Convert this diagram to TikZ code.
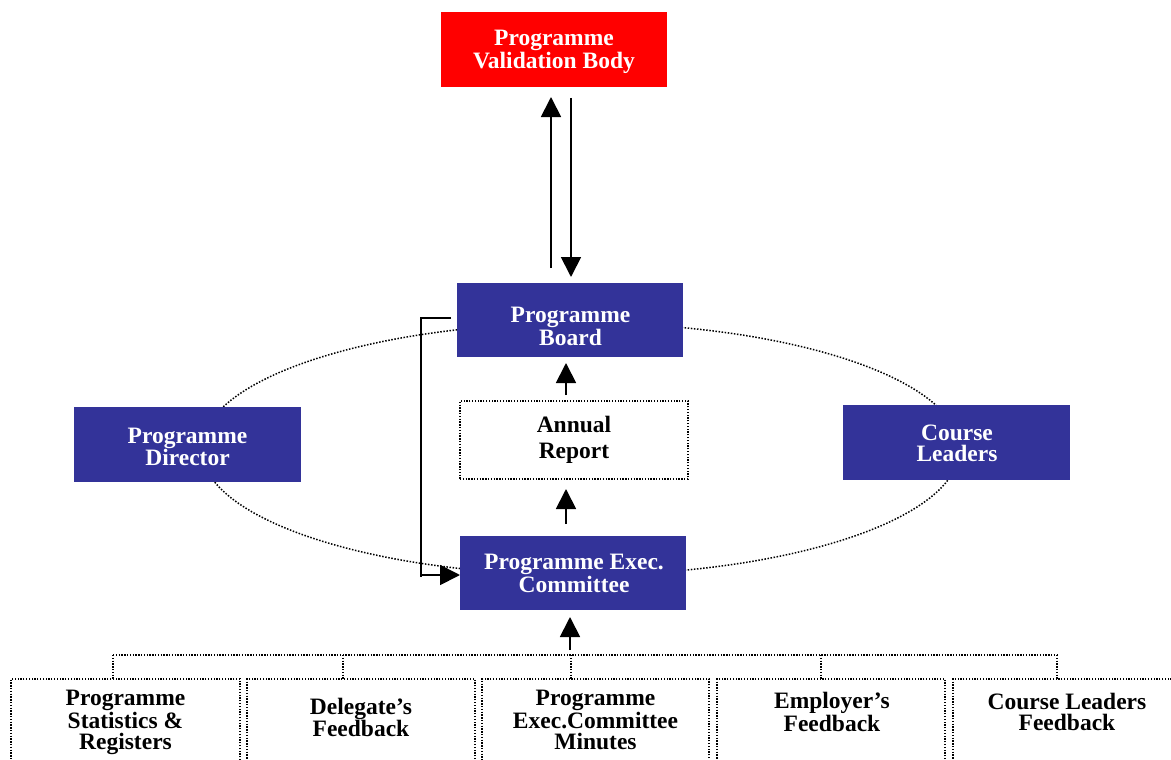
\documentclass[tikz,border=0pt]{standalone}
\usepackage{fontspec}
\setmainfont{Liberation Serif}
\usetikzlibrary{arrows.meta}
\definecolor{boardblue}{HTML}{333399}
\definecolor{bodyred}{HTML}{FF0000}

\tikzset{
  boxbase/.style={minimum width=226pt, minimum height=74pt, inner sep=0pt, outer sep=0pt},
  bluebox/.style={boxbase, fill=boardblue},
  redbox/.style={boxbase, fill=bodyred},
  dotline/.style={line width=1.3pt, dash pattern=on 1.3pt off 1.5pt},
  cycleline/.style={line width=1.5pt, dash pattern=on 1.5pt off 1.6pt},
  dotbox/.style={boxbase, draw, dotline},
  boxtext/.style={font=\fontsize{23.5}{21}\selectfont\bfseries, align=center, inner sep=0pt, text depth=0pt},
  whitetext/.style={boxtext, text=white},
  flow/.style={line width=1.8pt, -{Triangle[length=20pt,width=20pt]}},
  plainline/.style={line width=1.8pt},
}

\begin{document}
\begin{tikzpicture}[x=1pt, y=-1pt]
\useasboundingbox (0,0) rectangle (1171,760);
\clip (0,0) rectangle (1171,760);

% committee cycle
\draw[cycleline] (580.5,449) ellipse [x radius=379pt, y radius=126pt];

% governing bodies
\node[redbox, minimum width=226pt, minimum height=75pt] (pvb) at (554,49.5) {};
\node[whitetext] (pvbtext) at (554,49.5) {Programme\\Validation Body};

\node[bluebox] (board) at (570,320) {};
\node[whitetext] (boardtext) at (570.5,326.5) {Programme\\Board};

\node[dotbox, minimum width=228pt, minimum height=78pt] (annual) at (574,440) {};
\node[boxtext, font=\fontsize{23.5}{26}\selectfont\bfseries] (annualtext) at (574,437.5) {Annual\\Report};

\node[bluebox, minimum width=227pt, minimum height=75pt] (director) at (187.5,444.5) {};
\node[whitetext] (directortext) at (187.5,447) {Programme\\Director};

\node[bluebox, minimum width=227pt, minimum height=75pt] (leaders) at (956.5,442.5) {};
\node[whitetext] (leaderstext) at (957,443) {Course\\Leaders};

\node[bluebox] (exec) at (573,573) {};
\node[whitetext] (exectext) at (574,573.5) {Programme Exec.\\Committee};

% input documents
\node[dotbox, minimum width=229pt, minimum height=121pt] (b1) at (125.5,739.5) {};
\node[dotbox, minimum width=228pt, minimum height=121pt] (b2) at (361,739.5) {};
\node[dotbox, minimum width=227pt, minimum height=121pt] (b3) at (595.5,739.5) {};
\node[dotbox, minimum width=228pt, minimum height=121pt] (b4) at (831,739.5) {};
\node[dotbox, minimum width=228pt, minimum height=121pt] (b5) at (1067,739.5) {};

\node[boxtext] (t1) at (125.5,720) {Programme\\Statistics \&\\Registers};
\node[boxtext] (t2) at (361,717.5) {Delegate’s\\Feedback};
\node[boxtext] (t3) at (595.5,720) {Programme\\Exec.Committee\\Minutes};
\node[boxtext] (t4) at (832,712) {Employer’s\\Feedback};
\node[boxtext] (t5) at (1067,712) {Course Leaders\\Feedback};

% collecting bus
\coordinate (d1) at (113,655);
\coordinate (d2) at (343,655);
\coordinate (d3) at (571,655);
\coordinate (d4) at (821,655);
\coordinate (d5) at (1057,655);
\draw[dotline] (d1) -- (d5);
\foreach \i in {1,...,5}
  \draw[dotline] (d\i) -- (d\i |- b\i.north);

% reporting arrows
\draw[flow] ([xshift=-19pt,yshift=15pt]board.north) -- ([xshift=-3pt,yshift=-10pt]pvb.south);
\draw[flow] ([xshift=17pt,yshift=-11pt]pvb.south) -- ([xshift=1pt,yshift=6pt]board.north);
\draw[flow] ([xshift=-8pt,yshift=6pt]annual.north) -- ([xshift=-4pt,yshift=-6pt]board.south);
\draw[flow] ([xshift=-7pt,yshift=12pt]exec.north) -- ([xshift=-8pt,yshift=-10pt]annual.south);
\draw[flow] ([xshift=-3pt,yshift=-40pt]exec.south) -- ([xshift=-3pt,yshift=-7pt]exec.south);

% board feeds back to the executive committee
\coordinate (brEnd) at ([xshift=-6pt,yshift=2pt]board.west);
\coordinate (brTop) at (421,318);
\coordinate (brBot) at (421,575);
\draw[plainline] (brEnd) -- (brTop) -- ([yshift=-2pt]brBot);
\draw[flow] (brBot) -- ([yshift=-2pt]exec.west);
\end{tikzpicture}
\end{document}
